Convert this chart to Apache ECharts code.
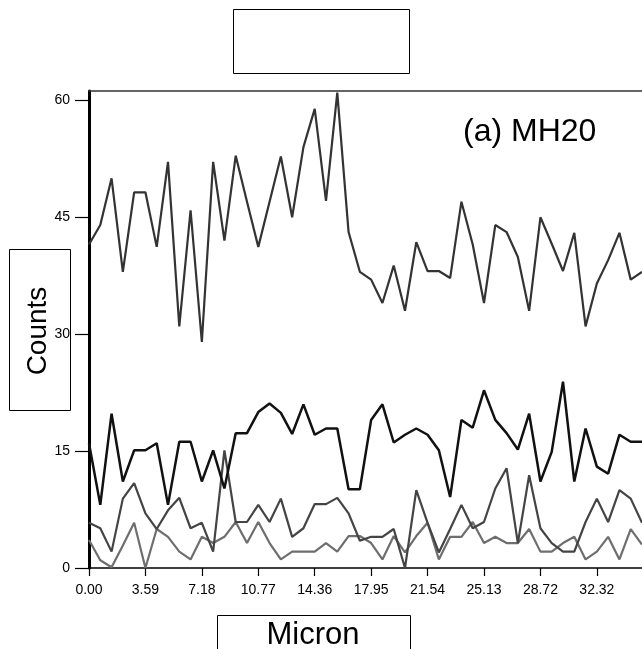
<!DOCTYPE html>
<html>
<head>
<meta charset="utf-8">
<title>MH20 counts</title>
<script src="https://cdn.jsdelivr.net/npm/echarts@6/dist/echarts.min.js"></script>
<style>
    html, body { margin: 0; padding: 0; background: #fff; }
    #chart { width: 642px; height: 649px; }
</style>
</head>
<body>
<div id="chart"></div>
<script type="text/javascript">
    // sample step along the line scan (micron)
    var step = 0.71812;
    var tickLabels = ['0.00','3.59','7.18','10.77','14.36','17.95','21.54','25.13','28.72','32.32'];
    var yTicks = [0, 15, 30, 45, 60];

    var topLine = [41.5,44,50,38,48.2,48.2,41.2,52.1,31,45.9,29,52.1,42,52.9,47,41.2,47,52.8,45,54,
        58.9,47.1,61,43.1,38,37,34,38.8,33,41.8,38.1,38.1,37.2,47,41.5,34,44,43.1,39.9,33,
        45,41.6,38.1,43,31,36.5,39.5,43,37,38];
    var blackLine = [16,8.1,19.8,11.1,15.1,15.1,16,8.1,16.2,16.2,11.1,15.1,10.2,17.3,17.3,20,21.1,19.9,17.2,21,
        17.1,17.9,17.9,10.1,10.1,19,21,16.1,17.1,17.9,17.1,15.1,9.1,19,18,22.8,19,17.3,15.2,19.8,
        11.1,14.9,23.9,11.1,17.9,13,12.1,17.1,16.2,16.2];
    var darkLine = [5.8,5.1,2.1,8.9,10.9,7.0,5.0,7.4,9.0,5.1,5.8,2.1,15.1,5.9,5.9,8.1,5.9,8.9,4.0,5.1,
        8.2,8.2,9.0,7.0,3.5,4.0,4.0,5.0,0,10.0,5.8,2.0,5.0,8.1,5.1,5.9,10.2,12.8,3.2,11.9,
        5.1,3.2,2.1,2.1,5.9,8.9,5.9,10.0,8.9,5.8];
    var lightLine = [3.6,1.0,0.1,2.9,5.8,0,5.0,4.0,2.1,1.1,4.0,3.2,4.0,5.9,3.2,5.9,3.2,1.1,2.1,2.1,
        2.1,3.2,2.1,4.1,4.1,3.2,1.1,4.1,2.0,4.1,5.8,1.1,4.0,4.0,5.9,3.2,4.0,3.2,3.2,5.0,
        2.1,2.1,3.2,4.0,1.1,2.1,4.0,1.1,5.0,3.0];

    var microns = [];
    for (var i = 0; i < topLine.length; i++) {
        microns.push((i * step).toFixed(2));
    }

    var tickFont = 'Liberation Sans Narrow, Liberation Sans, Arial, sans-serif';
    var textFont = 'Liberation Sans, Arial, sans-serif';

    var myChart = echarts.init(document.getElementById('chart'), null, {renderer: 'canvas'});
    var option = {
        backgroundColor: '#fff',
        animation: false,
        grid: {
            left: 89,
            right: -2,
            top: 91,
            bottom: 81
        },
        xAxis: [
            {
                type: 'category',
                data: microns,
                boundaryGap: false,
                axisLine: {lineStyle: {color: '#000', width: 1.5}},
                axisTick: {interval: 4, length: 8, lineStyle: {color: '#000', width: 1.2}},
                axisLabel: {
                    interval: 4,
                    margin: 15,
                    color: '#000',
                    fontFamily: tickFont,
                    fontSize: 14,
                    formatter: function (value, idx) {
                        return tickLabels[idx / 5];
                    }
                },
                splitLine: {show: false}
            },
            {
                type: 'category',
                data: microns,
                position: 'top',
                boundaryGap: false,
                axisLine: {lineStyle: {color: '#333', width: 1.5}},
                axisTick: {show: false},
                axisLabel: {show: false},
                splitLine: {show: false}
            }
        ],
        yAxis: {
            type: 'value',
            min: 0,
            max: 61.2,
            interval: 15,
            axisLine: {show: true, onZero: false, lineStyle: {color: '#000', width: 3}},
            axisTick: {show: true, length: 14, customValues: yTicks, lineStyle: {color: '#000', width: 1.2}},
            axisLabel: {
                margin: 19,
                color: '#000',
                fontFamily: tickFont,
                fontSize: 14,
                customValues: yTicks
            },
            splitLine: {show: false}
        },
        series: [
            {
                name: 'light',
                type: 'line',
                data: lightLine,
                symbol: 'none',
                lineStyle: {color: '#6e6e6e', width: 2.2}
            },
            {
                name: 'dark',
                type: 'line',
                data: darkLine,
                symbol: 'none',
                lineStyle: {color: '#444', width: 2.2}
            },
            {
                name: 'black',
                type: 'line',
                data: blackLine,
                symbol: 'none',
                lineStyle: {color: '#111', width: 2.5}
            },
            {
                name: 'top',
                type: 'line',
                data: topLine,
                symbol: 'none',
                lineStyle: {color: '#333', width: 2.2}
            }
        ],
        graphic: [
            {
                type: 'rect',
                shape: {x: 233.5, y: 9.5, width: 176, height: 64},
                style: {fill: '#fff', stroke: '#000', lineWidth: 1}
            },
            {
                type: 'text',
                x: 463,
                y: 116,
                style: {text: '(a) MH20', font: '32px ' + textFont, fill: '#000'}
            },
            {
                type: 'rect',
                shape: {x: 9.5, y: 249.5, width: 61, height: 161},
                style: {fill: '#fff', stroke: '#000', lineWidth: 1}
            },
            {
                type: 'text',
                x: 38,
                y: 331,
                rotation: Math.PI / 2,
                style: {
                    text: 'Counts',
                    font: '28px ' + textFont,
                    fill: '#000',
                    align: 'center',
                    verticalAlign: 'middle'
                }
            },
            {
                type: 'rect',
                shape: {x: 217.5, y: 615.5, width: 193, height: 50},
                style: {fill: '#fff', stroke: '#000', lineWidth: 1}
            },
            {
                type: 'text',
                x: 313,
                y: 635,
                style: {
                    text: 'Micron',
                    font: '31px ' + textFont,
                    fill: '#000',
                    align: 'center',
                    verticalAlign: 'middle'
                }
            }
        ]
    };

    myChart.setOption(option);
</script>
</body>
</html>
